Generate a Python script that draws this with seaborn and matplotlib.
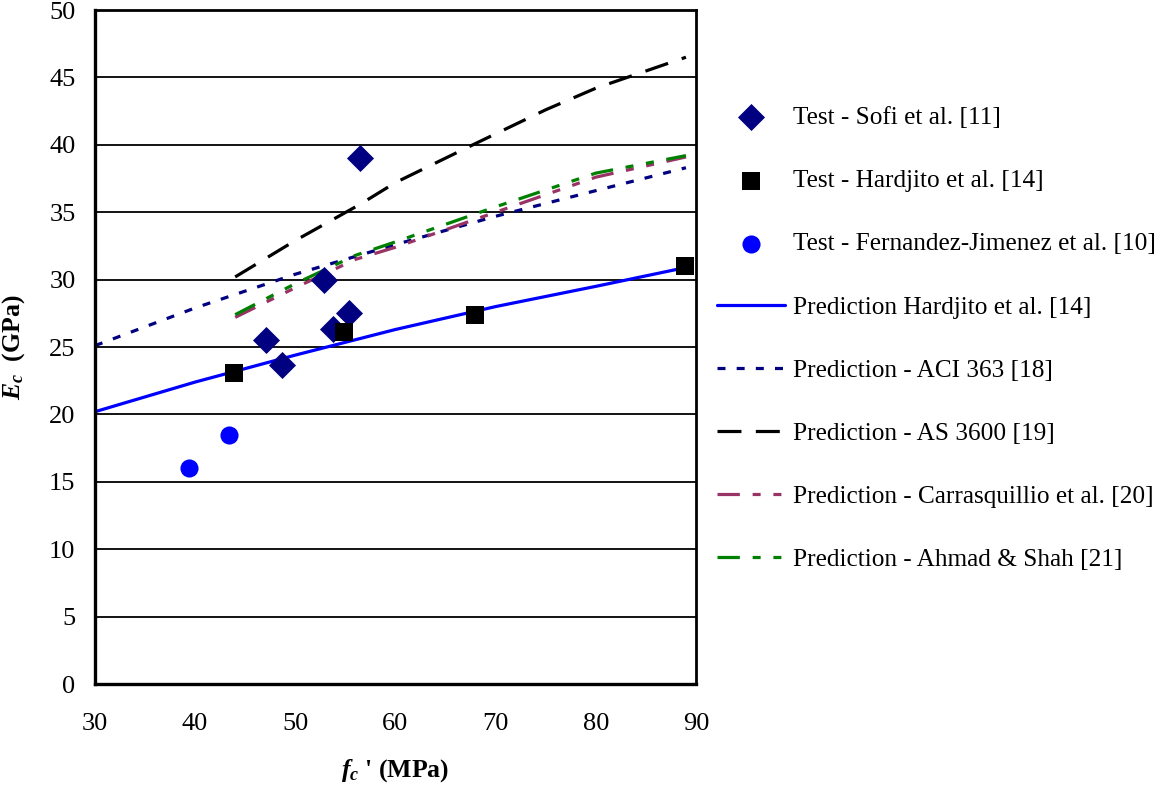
import seaborn as sns
import matplotlib.pyplot as plt
import pandas as pd

# test data (fc' in MPa, Ec in GPa)
sofi_fc = [47.1, 48.7, 52.9, 53.8, 55.4, 56.5]
sofi_ec = [25.5, 23.7, 30.0, 26.3, 27.5, 39.0]
hard_fc = [43.9, 54.9, 67.9, 88.9]
hard_ec = [23.1, 26.1, 27.4, 31.0]
fj_fc = [39.4, 43.4]
fj_ec = [16.0, 18.5]

# prediction curves
pred_hard_fc = [30, 40, 50, 60, 70, 80, 89]
pred_hard_ec = [20.2, 22.4, 24.4, 26.3, 28.0, 29.5, 30.9]
aci_fc = [30, 40, 50, 60, 70, 80, 89]
aci_ec = [25.1, 27.9, 30.4, 32.6, 34.7, 36.6, 38.3]
as_fc = [44, 50, 56.5, 60, 68, 75, 80, 89]
as_ec = [30.2, 32.9, 35.6, 37.2, 40.1, 42.6, 44.2, 46.5]
carr_fc = [44, 50, 56, 60, 70, 80, 89]
carr_ec = [27.2, 29.4, 31.5, 32.4, 35.0, 37.6, 39.1]
ahmad_fc = [44, 50, 56, 60, 70, 80, 89]
ahmad_ec = [27.4, 29.7, 31.8, 32.8, 35.4, 37.9, 39.2]

sns.set_style("white")
plt.rcParams['font.family'] = ['Liberation Serif', 'DejaVu Serif']
plt.rcParams['text.color'] = 'black'
plt.rcParams['axes.labelcolor'] = 'black'
plt.rcParams['xtick.color'] = 'black'
plt.rcParams['ytick.color'] = 'black'
plt.rcParams['mathtext.fontset'] = 'custom'
plt.rcParams['mathtext.it'] = 'Liberation Serif:italic:bold'
plt.rcParams['mathtext.rm'] = 'Liberation Serif:bold'

fig = plt.figure(figsize=(11.65, 7.96), dpi=100)
ax = fig.add_axes([0.0815, 0.1407, 0.5159, 0.8467])

# prediction lines
lines = [
    ("Prediction Hardjito et al. [14]", pred_hard_fc, pred_hard_ec, "#0000FF", ""),
    ("Prediction - ACI 363 [18]", aci_fc, aci_ec, "#000080", (2.5, 3.5)),
    ("Prediction - AS 3600 [19]", as_fc, as_ec, "black", (7.5, 4.5)),
    ("Prediction - Carrasquillio et al. [20]", carr_fc, carr_ec, "#993366", (7, 4, 2.5, 4, 2.5, 4)),
    ("Prediction - Ahmad & Shah [21]", ahmad_fc, ahmad_ec, "#008000", (7, 4, 2.5, 4, 2.5, 4)),
]
for lab, xs, ys, col, ds in lines:
    df = pd.DataFrame({"fc": xs, "Ec": ys})
    sns.lineplot(data=df, x="fc", y="Ec", ax=ax, color=col, lw=2.3, label=lab,
                 sort=False, zorder=2)
    if ds:
        ax.lines[-1].set_dashes(ds)

# test points
pts = [
    ("Test - Sofi et al. [11]", sofi_fc, sofi_ec, "#000080", "D", 190),
    ("Test - Hardjito et al. [14]", hard_fc, hard_ec, "black", "s", 180),
    ("Test - Fernandez-Jimenez et al. [10]", fj_fc, fj_ec, "#0000FF", "o", 170),
]
for lab, xs, ys, col, m, s in pts:
    df = pd.DataFrame({"fc": xs, "Ec": ys})
    sns.scatterplot(data=df, x="fc", y="Ec", ax=ax, color=col, marker=m, s=s,
                    linewidth=0, label=lab, zorder=3)

ax.set_xlim(30, 90)
ax.set_ylim(0, 50)
ax.set_xticks(range(30, 91, 10))
ax.set_yticks(range(0, 51, 5))
ax.yaxis.grid(True, color='black', lw=1.3)
ax.xaxis.grid(False)
for sp in ax.spines.values():
    sp.set_color('black')
    sp.set_linewidth(2)
ax.spines['left'].set_linewidth(2.4)
ax.spines['bottom'].set_linewidth(2.4)
ax.tick_params(axis='both', direction='out', length=7, width=1.2, labelsize=19)
ax.tick_params(axis='x', pad=14)
ax.tick_params(axis='y', pad=7)

ax.set_xlabel(r"$f_c$ ' (MPa)", fontsize=18.5, fontweight='bold', labelpad=16)
ax.set_ylabel(r"$E_c$  (GPa)", fontsize=18.5, fontweight='bold', labelpad=16)

handles, labels = ax.get_legend_handles_labels()
order = [p[0] for p in pts] + [l[0] for l in lines]
hmap = dict(zip(labels, handles))
ax.legend([hmap[k] for k in order], order, loc='upper left', bbox_to_anchor=(1.018, 0.872),
          frameon=False, fontsize=18.2, labelspacing=1.6, handlelength=2.7,
          handletextpad=0.3, borderaxespad=0)

fig.savefig("out.png", dpi=100)
